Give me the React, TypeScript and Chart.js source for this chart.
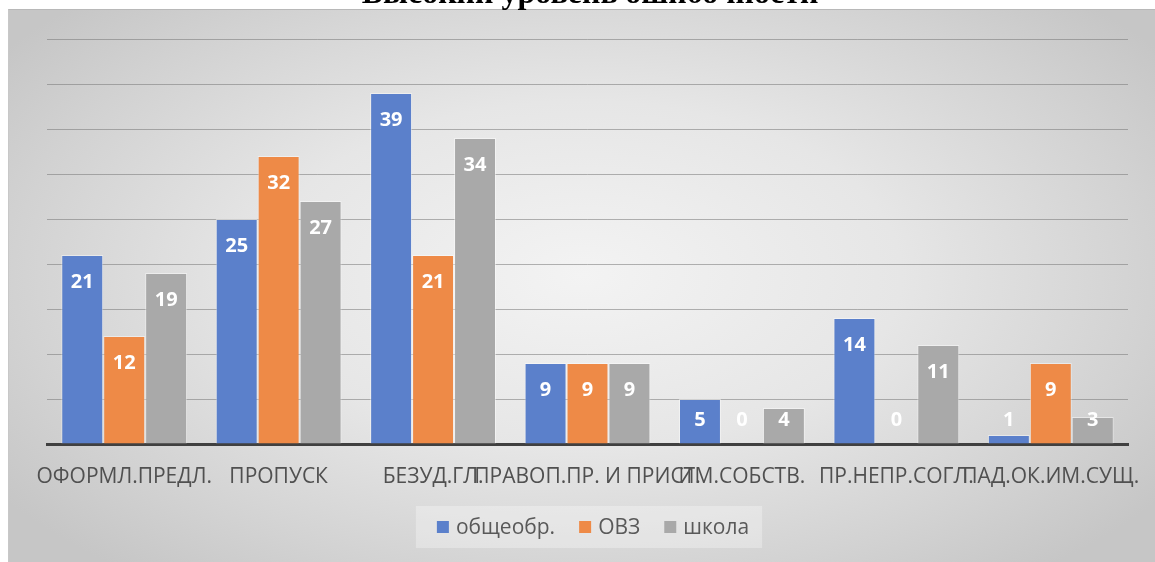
import React, { useEffect, useRef } from "react";
import { Chart, registerables } from "chart.js";

Chart.register(...registerables);

const TITLE = "Высокий уровень ошибочности";
const categories = [
  "ОФОРМЛ.ПРЕДЛ.",
  "ПРОПУСК",
  "БЕЗУД.ГЛ.",
  "ПРАВОП.ПР. И ПРИСТ.",
  "ИМ.СОБСТВ.",
  "ПР.НЕПР.СОГЛ.",
  "ПАД.ОК.ИМ.СУЩ.",
];
const seriesNames = ["общеобр.", "ОВЗ", "школа"];
const general = [21, 25, 39, 9, 5, 14, 1];
const ovz = [12, 32, 21, 9, 0, 0, 9];
const school = [19, 27, 34, 9, 4, 11, 3];
const colors = ["#5b80cb", "#ee8a47", "#a9a9a9"];

const valueLabels = {
  id: "valueLabels",
  afterDatasetsDraw(chart: any) {
    const ctx = chart.ctx;
    const bottom = chart.chartArea.bottom;
    ctx.save();
    ctx.font = "bold 20px 'Open Sans'";
    ctx.fillStyle = "#ffffff";
    ctx.textAlign = "center";
    ctx.textBaseline = "middle";
    chart.data.datasets.forEach((ds: any, di: number) => {
      const meta = chart.getDatasetMeta(di);
      meta.data.forEach((bar: any, i: number) => {
        const y = Math.min(bar.y + 27, bottom - 24);
        ctx.fillText(String(ds.data[i]), bar.x, y);
      });
    });
    ctx.restore();
  },
};

const customLegend = {
  id: "customLegend",
  afterDraw(chart: any) {
    const ctx = chart.ctx;
    ctx.save();
    ctx.font = "21px 'Open Sans'";
    const box = 12;
    const gapText = 7;
    const gapItem = 24;
    const items = chart.data.datasets.map((ds: any) => ({
      text: ds.label,
      color: ds.backgroundColor,
      w: ctx.measureText(ds.label).width,
    }));
    const total =
      items.reduce((s: number, it: any) => s + box + gapText + it.w, 0) +
      gapItem * (items.length - 1);
    const cx = 585;
    const cy = 518;
    let x = cx - total / 2;
    ctx.fillStyle = "rgba(255,255,255,0.3)";
    ctx.fillRect(x - 21, cy - 21, total + 34, 42);
    ctx.textBaseline = "middle";
    ctx.textAlign = "left";
    items.forEach((it: any) => {
      ctx.fillStyle = it.color;
      ctx.fillRect(x, cy - box / 2, box, box);
      x += box + gapText;
      ctx.fillStyle = "#595959";
      ctx.fillText(it.text, x, cy + 1);
      x += it.w + gapItem;
    });
    ctx.restore();
  },
};

export default function App() {
  const ref = useRef<HTMLCanvasElement>(null);
  useEffect(() => {
    if (!ref.current) return;
    const datasets = [general, ovz, school].map((d, i) => ({
      label: seriesNames[i],
      data: d,
      backgroundColor: colors[i],
      borderColor: "rgba(255,255,255,0.45)",
      borderWidth: 1,
      borderSkipped: "bottom" as const,
      barPercentage: 1,
      categoryPercentage: 0.815,
    }));
    const chart = new Chart(ref.current, {
      type: "bar",
      data: { labels: categories, datasets },
      options: {
        animation: false,
        responsive: false,
        maintainAspectRatio: false,
        layout: { padding: { left: 39, right: 27, top: 30, bottom: 58 } },
        plugins: {
          legend: { display: false },
          tooltip: { enabled: false },
          title: { display: false },
        },
        scales: {
          x: {
            grid: { display: false, drawTicks: false },
            border: { display: true, color: "#404040", width: 3 },
            ticks: {
              autoSkip: false,
              maxRotation: 0,
              minRotation: 0,
              padding: 20,
              color: "#505050",
              font: { family: "'Open Sans'", size: 21 },
            },
            afterFit: (s: any) => {
              s.height = 60;
              s.paddingLeft = 0;
              s.paddingRight = 0;
            },
          },
          y: {
            min: 0,
            max: 45,
            ticks: { display: false, stepSize: 5 },
            grid: { color: "rgba(120,120,120,0.55)", lineWidth: 1, drawTicks: false },
            border: { display: false },
            afterFit: (s: any) => {
              s.width = 0;
              s.paddingTop = 0;
              s.paddingBottom = 0;
            },
          },
        },
      },
      plugins: [valueLabels, customLegend],
    });
    return () => chart.destroy();
  }, []);

  return (
    <div
      style={{
        position: "fixed",
        left: 0,
        top: 0,
        width: 1155,
        height: 562,
        overflow: "hidden",
        background: "#ffffff",
      }}
    >
      <div
        style={{
          position: "absolute",
          left: 8,
          top: 9,
          width: 1147,
          height: 553,
          borderTop: "1px solid #b8b8b8",
          borderLeft: "1px solid #c8c8c8",
          boxSizing: "border-box",
          background:
            "radial-gradient(ellipse 62% 70% at 50% 48%, #f3f3f3 0%, #e6e6e6 45%, #d2d2d2 80%, #c6c6c6 100%)",
        }}
      >
        <canvas ref={ref} width={1147} height={553} style={{ position: "absolute", left: -1, top: -1 }} />
      </div>
      <div
        style={{
          position: "absolute",
          left: 0,
          width: 1180,
          top: -24,
          lineHeight: "32px",
          textAlign: "center",
          fontFamily: "'Liberation Serif', serif",
          fontWeight: "bold",
          fontSize: 32,
          color: "#000",
        }}
      >
        {TITLE}
      </div>
    </div>
  );
}
